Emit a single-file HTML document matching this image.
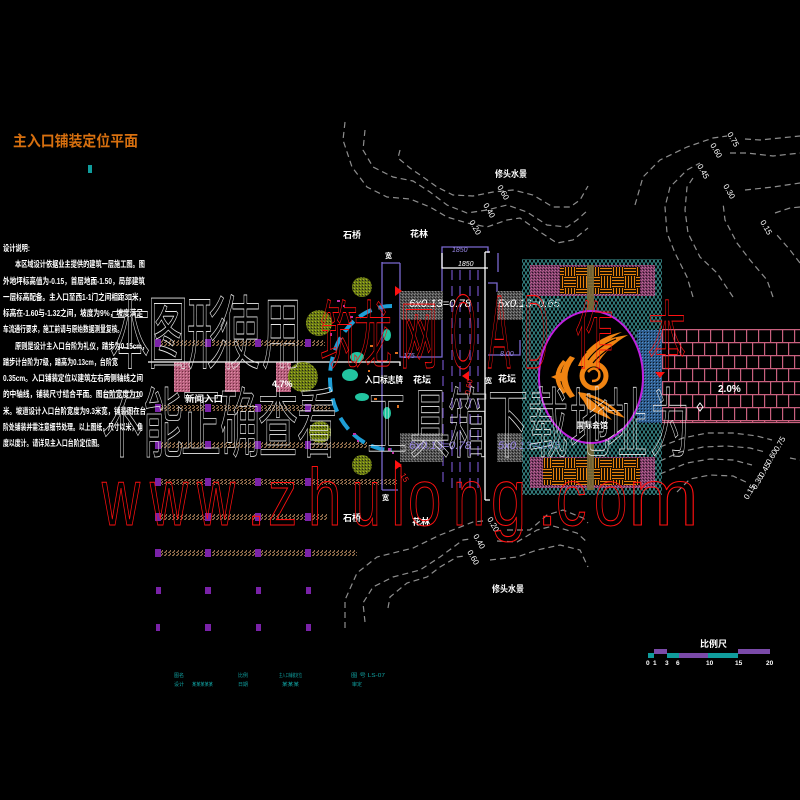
<!DOCTYPE html>
<html><head><meta charset="utf-8">
<style>
html,body{margin:0;padding:0;background:#000;width:800px;height:800px;overflow:hidden}
svg{display:block}
</style></head>
<body>
<svg width="800" height="800" viewBox="0 0 800 800" xmlns="http://www.w3.org/2000/svg" font-family="Liberation Sans, Noto Sans CJK SC, sans-serif">
<defs>
  <pattern id="mesh" width="8" height="6" patternUnits="userSpaceOnUse">
    <path d="M0,0 L4,6 L8,0 M0,6 L4,0 L8,6" stroke="#3c9494" stroke-width="0.9" fill="none"/>
  </pattern>
  <pattern id="gray" width="3" height="3" patternUnits="userSpaceOnUse">
    <rect width="3" height="3" fill="#4c4c4c"/><rect x="0" y="0" width="1" height="1" fill="#8a8a8a"/><rect x="2" y="1" width="1" height="1" fill="#1a1a1a"/><rect x="1" y="2" width="1" height="1" fill="#777"/>
  </pattern>
  <pattern id="brown" width="4" height="3" patternUnits="userSpaceOnUse">
    <rect width="4" height="3" fill="#000"/><rect x="0" y="0" width="2" height="1" fill="#8a6848"/><rect x="2" y="1" width="1" height="1" fill="#9a7656"/><rect x="1" y="2" width="2" height="1" fill="#7a5a3c"/>
  </pattern>
  <pattern id="pink" width="3" height="3" patternUnits="userSpaceOnUse">
    <rect width="3" height="3" fill="#7a3c66"/><rect x="0" y="0" width="1" height="1" fill="#c06a98"/><rect x="2" y="1" width="1" height="1" fill="#b05a88"/><rect x="1" y="2" width="1" height="1" fill="#2a1020"/>
  </pattern>
  <pattern id="pinkr" width="3" height="3" patternUnits="userSpaceOnUse">
    <rect width="3" height="3" fill="#b8607e"/><rect x="0" y="0" width="1" height="1" fill="#e090a8"/><rect x="2" y="2" width="1" height="1" fill="#703040"/>
  </pattern>
  <pattern id="olive" width="3" height="3" patternUnits="userSpaceOnUse">
    <rect width="3" height="3" fill="#6a7a12"/><rect x="0" y="0" width="1" height="1" fill="#a0b02a"/><rect x="2" y="1" width="1" height="1" fill="#222"/>
  </pattern>
  <pattern id="bluep" width="3" height="3" patternUnits="userSpaceOnUse">
    <rect width="3" height="3" fill="#2c5a8a"/><rect x="0" y="0" width="1" height="1" fill="#5a90c8"/><rect x="2" y="2" width="1" height="1" fill="#101820"/>
  </pattern>
  <pattern id="parq" width="24" height="24" patternUnits="userSpaceOnUse">
    <g stroke="#e8820c" stroke-width="1.2">
      <path d="M0,1.5H12M0,4.5H12M0,7.5H12M0,10.5H12"/>
      <path d="M13.5,0V12M16.5,0V12M19.5,0V12M22.5,0V12"/>
      <path d="M1.5,12V24M4.5,12V24M7.5,12V24M10.5,12V24"/>
      <path d="M12,13.5H24M12,16.5H24M12,19.5H24M12,22.5H24"/>
    </g>
  </pattern>
  <pattern id="brick" x="662" y="329" width="24" height="26" patternUnits="userSpaceOnUse">
    <path d="M0,0.6H24M0,13.6H24M0.6,0V13M12.6,0V13M6.6,13V26M18.6,13V26" stroke="#c8607e" stroke-width="1.2" fill="none"/>
  </pattern>
</defs>

<rect width="800" height="800" fill="#000"/>

<!-- Title -->
<text x="13" y="146" font-size="15" font-weight="bold" fill="#d8700f" textLength="125" lengthAdjust="spacingAndGlyphs">主入口铺装定位平面</text>
<rect x="88" y="165" width="4" height="8" fill="#109c9c"/>

<!-- Design notes -->
<g fill="#fff" font-size="8.5" font-weight="bold">
  <text x="3" y="251" textLength="27" lengthAdjust="spacingAndGlyphs">设计说明:</text>
  <text x="15" y="267" textLength="130" lengthAdjust="spacingAndGlyphs">本区域设计依据业主提供的建筑一层施工图。图</text>
  <text x="3" y="284" textLength="142" lengthAdjust="spacingAndGlyphs">外地坪标高值为-0.15，首层地面-1.50，局部建筑</text>
  <text x="3" y="300" textLength="142" lengthAdjust="spacingAndGlyphs">一层标高配备。主入口至西1-1门之间相距31米，</text>
  <text x="3" y="316" textLength="140" lengthAdjust="spacingAndGlyphs">标高在-1.60与-1.32之间，坡度为9%，坡度满足</text>
  <text x="3" y="332" textLength="120" lengthAdjust="spacingAndGlyphs">车流通行要求，施工前请与原始数据测量复核。</text>
  <text x="15" y="349" textLength="133" lengthAdjust="spacingAndGlyphs">原则是设计主入口台阶为礼仪，踏步为0.15cm，</text>
  <text x="3" y="365" textLength="115" lengthAdjust="spacingAndGlyphs">踏步计台阶为7级，踏高为0.13cm，台阶宽</text>
  <text x="3" y="381" textLength="140" lengthAdjust="spacingAndGlyphs">0.35cm。入口铺装定位以建筑左右两侧轴线之间</text>
  <text x="3" y="397" textLength="140" lengthAdjust="spacingAndGlyphs">的中轴线，铺装尺寸结合平面。图台阶宽度为10</text>
  <text x="3" y="414" textLength="143" lengthAdjust="spacingAndGlyphs">米。坡道设计入口台阶宽度为9.3米宽，铺装图在台</text>
  <text x="3" y="430" textLength="140" lengthAdjust="spacingAndGlyphs">阶处铺装并需注意细节处理。以上图纸，尺寸以米，角</text>
  <text x="3" y="446" textLength="100" lengthAdjust="spacingAndGlyphs">度以度计。请详见主入口台阶定位图。</text>
</g>

<!-- Contours -->
<g fill="none" stroke="#8e8e8e" stroke-width="1.2" stroke-dasharray="6 4">
  <polyline points="400,150 398,158 410,168 423,177 437,187 453,195 473,196 493,192 513,190 533,195 553,207 570,207 580,200 588,186"/>
  <polyline points="365,130 363,150 373,167 393,177 413,181 430,192 447,205 467,213 487,210 507,205 527,212 547,225 567,227 577,220 588,210"/>
  <polyline points="345,122 343,140 352,167 367,187 387,197 410,199 430,207 447,217 467,223 487,227 507,220 520,218 537,230 557,243 573,240 588,228"/>
  <polyline points="635,205 643,177 660,160 687,147 713,138 727,136"/>
  <polyline points="745,139 760,140 780,138 800,136"/>
  <polyline points="693,297 687,277 675,253 667,233 665,207 670,187 687,170 700,163"/>
  <polyline points="730,153 747,153 773,156 800,153"/>
  <polyline points="733,297 717,273 700,257 688,233 685,210 687,187 695,175"/>
  <polyline points="773,297 767,280 750,260 737,243 725,220 723,203"/>
  <polyline points="745,190 773,187 800,183"/>
  <polyline points="800,263 790,250 777,235"/>
  <polyline points="775,213 790,208 800,207"/>
  <polyline points="660,447 683,438 707,433 733,433 757,436 772,440"/>
  <polyline points="660,461 680,452 703,447 727,446 750,448 765,452"/>
  <polyline points="660,474 687,463 710,459 733,460 752,465"/>
  <polyline points="677,492 690,479 710,475 733,476 748,483"/>
  <polyline points="790,458 800,460"/>
  <polyline points="345,628 345,600 357,573 377,557 413,548 440,535 473,522 483,521"/>
  <polyline points="507,530 530,530 547,515 563,510 583,518 588,523"/>
  <polyline points="365,622 363,603 373,587 393,577 420,570 440,557 463,540 470,539"/>
  <polyline points="497,541 517,542 537,530 553,526 577,533 588,543"/>
  <polyline points="388,608 390,597 407,583 427,577 440,567 457,557 465,556"/>
  <polyline points="490,560 517,557 537,550 560,545 580,550 588,567"/>
</g>
<!-- contour labels -->
<g fill="#fff" font-size="8">
  <text transform="translate(497,187) rotate(60)">0.60</text>
  <text transform="translate(483,205) rotate(60)">0.40</text>
  <text transform="translate(469,222) rotate(60)">0.20</text>
  <text transform="translate(727,134) rotate(60)">0.75</text>
  <text transform="translate(710,145) rotate(60)">0.60</text>
  <text transform="translate(697,166) rotate(60)">0.45</text>
  <text transform="translate(723,186) rotate(60)">0.30</text>
  <text transform="translate(760,222) rotate(60)">0.15</text>
  <text transform="translate(778,452) rotate(-60)">0.75</text>
  <text transform="translate(770,465) rotate(-60)">0.60</text>
  <text transform="translate(763,478) rotate(-60)">0.45</text>
  <text transform="translate(756,490) rotate(-60)">0.30</text>
  <text transform="translate(748,500) rotate(-60)">0.15</text>
  <text transform="translate(487,519) rotate(60)">0.20</text>
  <text transform="translate(473,536) rotate(60)">0.40</text>
  <text transform="translate(467,552) rotate(60)">0.60</text>
</g>

<!-- Bands -->
<g>
  <rect x="157" y="340" width="168" height="6" fill="url(#brown)"/>
  <rect x="157" y="405" width="173" height="6" fill="url(#brown)"/>
  <rect x="157" y="442" width="210" height="6" fill="url(#brown)"/>
  <rect x="157" y="479" width="240" height="6" fill="url(#brown)"/>
  <rect x="157" y="514" width="170" height="6" fill="url(#brown)"/>
  <rect x="157" y="550" width="200" height="6" fill="url(#brown)"/>
  <g fill="#7a22a8">
    <rect x="155" y="339" width="6" height="8"/><rect x="205" y="339" width="6" height="8"/><rect x="255" y="339" width="6" height="8"/><rect x="305" y="339" width="6" height="8"/>
    <rect x="155" y="404" width="6" height="8"/><rect x="205" y="404" width="6" height="8"/><rect x="255" y="404" width="6" height="8"/><rect x="305" y="404" width="6" height="8"/>
    <rect x="155" y="441" width="6" height="8"/><rect x="205" y="441" width="6" height="8"/><rect x="255" y="441" width="6" height="8"/><rect x="305" y="441" width="6" height="8"/>
    <rect x="155" y="478" width="6" height="8"/><rect x="205" y="478" width="6" height="8"/><rect x="255" y="478" width="6" height="8"/><rect x="305" y="478" width="6" height="8"/>
    <rect x="155" y="513" width="6" height="8"/><rect x="205" y="513" width="6" height="8"/><rect x="255" y="513" width="6" height="8"/><rect x="305" y="513" width="6" height="8"/>
    <rect x="155" y="549" width="6" height="8"/><rect x="205" y="549" width="6" height="8"/><rect x="255" y="549" width="6" height="8"/><rect x="305" y="549" width="6" height="8"/>
    <rect x="156" y="587" width="5" height="7"/><rect x="205" y="587" width="6" height="7"/><rect x="256" y="587" width="5" height="7"/><rect x="306" y="587" width="5" height="7"/>
    <rect x="156" y="624" width="4" height="7"/><rect x="205" y="624" width="6" height="7"/><rect x="256" y="624" width="5" height="7"/><rect x="306" y="624" width="5" height="7"/>
  </g>
</g>

<!-- Pink rects -->
<rect x="174" y="362" width="16" height="30" fill="url(#pinkr)"/>
<rect x="225" y="362" width="15" height="30" fill="url(#pinkr)"/>
<rect x="276" y="362" width="15" height="30" fill="url(#pinkr)"/>
<path d="M148,362H400V366" stroke="#fff" stroke-width="1.3" fill="none"/>

<!-- Olive blobs -->
<g fill="url(#olive)">
  <circle cx="362" cy="287" r="10"/>
  <circle cx="319" cy="323" r="13"/>
  <circle cx="303" cy="377" r="15"/>
  <circle cx="320" cy="432" r="11"/>
  <circle cx="362" cy="465" r="10"/>
</g>

<!-- Cyan arc and teal blobs -->
<path d="M392,306 A62 72 0 0 0 392,450" fill="none" stroke="#1e9ed6" stroke-width="4" stroke-dasharray="14 7"/>
<g fill="#22c4a0">
  <ellipse cx="357" cy="357" rx="7" ry="5"/>
  <ellipse cx="350" cy="375" rx="8" ry="6"/>
  <ellipse cx="362" cy="397" rx="7" ry="4"/>
  <ellipse cx="387" cy="335" rx="4" ry="6"/>
  <ellipse cx="387" cy="413" rx="4" ry="6"/>
</g>
<g fill="#e07020">
  <rect x="370" y="345" width="3" height="2"/><rect x="395" y="352" width="3" height="2"/><rect x="374" y="398" width="3" height="2"/><rect x="397" y="405" width="2" height="3"/><rect x="368" y="370" width="2" height="2"/>
</g>
<g fill="#c030a8">
  <rect x="337" y="300" width="3" height="2"/><rect x="343" y="305" width="2" height="2"/><rect x="350" y="316" width="3" height="2"/><rect x="330" y="333" width="2" height="3"/><rect x="353" y="433" width="3" height="2"/><rect x="357" y="440" width="2" height="2"/><rect x="388" y="448" width="3" height="3"/><rect x="392" y="452" width="2" height="2"/>
</g>

<!-- Purple lines -->
<g stroke="#7a68d0" stroke-width="1.3" fill="none">
  <path d="M382,262V490M382,263H400M382,490H398M400,263V357H442V247H488V253M498,253V272M488,283H497V292M488,355H520V340"/>
</g>
<g stroke="#7050c0" stroke-width="1.2" stroke-dasharray="10 6">
  <path d="M452,270V488M460,270V488M470,270V488M478,270V488M443,360V488"/>
</g>
<path d="M442,253V268H488M485,252V500M485,252H490M485,500H490" stroke="#fff" stroke-width="1.3" fill="none"/>

<!-- Gray stipple rects -->
<rect x="400" y="291" width="43" height="29" fill="url(#gray)"/>
<rect x="497" y="291" width="26" height="29" fill="url(#gray)"/>
<rect x="400" y="433" width="43" height="29" fill="url(#gray)"/>
<rect x="497" y="433" width="26" height="29" fill="url(#gray)"/>
<g font-size="11" font-style="italic">
  <text x="409" y="307" fill="#fff" textLength="62" lengthAdjust="spacingAndGlyphs">6x0.13=0.78</text>
  <text x="498" y="307" fill="#fff" textLength="62" lengthAdjust="spacingAndGlyphs">5x0.13=0.65</text>
  <text x="409" y="449" fill="#9a88e8" textLength="62" lengthAdjust="spacingAndGlyphs">6x0.13=0.78</text>
  <text x="498" y="449" fill="#9a88e8" textLength="62" lengthAdjust="spacingAndGlyphs">5x0.13=0.65</text>
</g>

<!-- Plaza -->
<rect x="522" y="259" width="140" height="236" fill="url(#mesh)"/>
<rect x="530" y="265" width="125" height="31" fill="url(#pink)"/>
<rect x="560" y="267" width="80" height="27" fill="#000"/>
<rect x="560" y="267" width="80" height="27" fill="url(#parq)"/>
<rect x="530" y="457" width="125" height="31" fill="url(#pink)"/>
<rect x="543" y="458" width="97" height="27" fill="#000"/>
<rect x="543" y="458" width="97" height="27" fill="url(#parq)"/>
<rect x="587" y="265" width="7" height="48" fill="#7a6a3a" opacity="0.9"/>
<rect x="587" y="441" width="7" height="49" fill="#7a6a3a" opacity="0.9"/>
<rect x="637" y="330" width="25" height="93" fill="url(#bluep)"/>
<ellipse cx="591" cy="377" rx="52" ry="66" fill="#000" stroke="#c020e0" stroke-width="2"/>

<!-- Logo -->
<g fill="#f08412">
  <path d="M578,366 Q588,340 628,335 Q608,346 596,366 Z"/>
  <path d="M586,352 Q600,336 622,332 Q606,340 596,352 Z"/>
  <path d="M570,356 Q552,377 570,398 L575,396 Q560,377 575,358 Z"/>
  <path d="M563,360 Q548,377 563,394 L566,392 Q554,377 566,362 Z"/>
  <polygon points="551,377 563,372 563,382"/>
  <path d="M578,392 Q602,394 625,418 Q606,412 592,407 Q581,401 578,392 Z"/>
  <path d="M583,400 Q600,406 612,420 Q598,414 588,409 Z"/>
</g>
<circle cx="594" cy="376" r="12" fill="none" stroke="#f08412" stroke-width="5"/>
<path d="M588,372 Q594,365 599,372 Q601,381 592,381" fill="none" stroke="#f08412" stroke-width="2.5"/>
<g stroke="#000" stroke-width="1.2" fill="none">
  <path d="M588,360 Q598,346 616,339M593,363 Q602,352 620,342M590,398 Q604,402 616,414M586,396 Q598,404 608,414"/>
</g>

<!-- Brick paving -->
<rect x="662" y="329" width="138" height="94" fill="url(#brick)"/>
<path d="M662,422.5H800" stroke="#c8607e" stroke-width="1.2"/>

<!-- Labels -->
<g fill="#fff" font-size="9" font-weight="bold">
  <text x="343" y="238">石桥</text>
  <text x="343" y="521">石桥</text>
  <text x="410" y="237">花林</text>
  <text x="412" y="525">花林</text>
  <text x="495" y="177" textLength="32" lengthAdjust="spacingAndGlyphs">修头水景</text>
  <text x="492" y="592" textLength="32" lengthAdjust="spacingAndGlyphs">修头水景</text>
  <text x="413" y="383">花坛</text>
  <text x="498" y="382">花坛</text>
  <text x="365" y="383" textLength="38" lengthAdjust="spacingAndGlyphs">入口标志牌</text>
  <text x="185" y="402" textLength="38" lengthAdjust="spacingAndGlyphs">新闻入口</text>
  <text x="272" y="387" font-size="9">4.7%</text>
  <text x="718" y="392" font-size="10">2.0%</text>
  <text x="576" y="428" font-size="8">国际会馆</text>
  <text x="385" y="258" font-size="7">宽</text>
  <text x="485" y="383" font-size="7">宽</text>
  <text x="382" y="500" font-size="7">宽</text>
</g>
<g fill="#9a88e8" font-size="7" font-style="italic">
  <text x="452" y="252">1850</text>
  <text x="458" y="266" fill="#fff">1850</text>
  <text x="403" y="358">175</text>
  <text x="500" y="356">8.00</text>
</g>
<path d="M700,403 L703,407 L700,411 L697,407 Z" fill="none" stroke="#fff" stroke-width="1"/>

<!-- Red markers -->
<g fill="#ff1010">
  <polygon points="395,286 402,291 395,296"/>
  <polygon points="469,371 462,376 469,381"/>
  <polygon points="395,460 402,465 395,470"/>
  <polygon points="655,372 665,372 660,378"/>
</g>
<g fill="#ff2020" font-size="8">
  <text transform="translate(470,395) rotate(-80)">0.60</text>
  <text transform="translate(400,475) rotate(60)">15</text>
</g>

<!-- White watermark characters -->
<g fill="none" stroke="#e8e8e8" stroke-width="0.45" font-size="40" font-family="Noto Sans CJK SC, sans-serif">
  <g transform="translate(0,362) scale(1,2)">
    <text x="110" y="0">本</text><text x="148" y="0">图</text><text x="187" y="0">形</text><text x="220" y="0">使</text><text x="262" y="0">用</text>
  </g>
  <g transform="translate(0,451) scale(1,1.9)">
    <text x="102" y="0">不</text><text x="143" y="0">能</text><text x="181" y="0">正</text><text x="220" y="0">确</text><text x="258" y="0">查</text><text x="297" y="0">看</text>
    <text x="367" y="0">工</text><text x="410" y="0">具</text><text x="448" y="0">箱</text><text x="488" y="0">下</text><text x="528" y="0">载</text><text x="570" y="0">地</text><text x="607" y="0">址</text><text x="650" y="0">为</text>
  </g>
</g>

<!-- Red watermark characters row 1 -->
<g fill="none" stroke="#ff1010" stroke-width="0.5">
  <g transform="translate(0,362) scale(1,1.95)" font-size="38" font-family="Noto Sans CJK SC, sans-serif">
    <text x="320" y="0">筑</text><text x="354" y="0">龙</text><text x="400" y="0">网</text><text x="575" y="0">作</text><text x="648" y="0">本</text>
  </g>
  <g font-size="42" font-family="Liberation Sans, sans-serif">
    <text transform="translate(450,368) scale(0.8,2.5)">O</text>
    <text transform="translate(488,368) scale(0.8,2.5)">A</text>
    <text transform="translate(524,368) scale(0.8,2.5)">D</text>
  </g>
</g>

<!-- www.zhulong.com -->
<g fill="none" stroke="#ff1010" stroke-width="1.1" font-size="81" font-family="Liberation Sans, sans-serif">
  <text transform="translate(102,525) scale(0.65,1)">w</text>
  <text transform="translate(150,525) scale(0.65,1)">w</text>
  <text transform="translate(197,525) scale(0.65,1)">w</text>
  <text transform="translate(246,525) scale(0.9,1)">.</text>
  <text transform="translate(268,525) scale(0.72,1)">z</text>
  <text transform="translate(308,525) scale(0.74,1)">h</text>
  <text transform="translate(352,525) scale(0.63,1)">u</text>
  <text transform="translate(391,525) scale(0.8,1)">l</text>
  <text transform="translate(408,525) scale(0.74,1)">o</text>
  <text transform="translate(453,525) scale(0.71,1)">n</text>
  <text transform="translate(491,525) scale(0.78,1)">g</text>
  <text transform="translate(537,525) scale(0.9,1)">.</text>
  <text transform="translate(556,525) scale(0.75,1)">c</text>
  <text transform="translate(594,525) scale(0.74,1)">o</text>
  <text transform="translate(628,525) scale(1.05,1)">m</text>
</g>

<!-- Bottom teal tiny text -->
<g fill="#10a0a0" font-size="5">
  <text x="174" y="677">图名</text>
  <text x="238" y="677">比例</text>
  <text x="279" y="677" textLength="23" lengthAdjust="spacingAndGlyphs">主入口铺装定位</text>
  <text x="351" y="677" textLength="34" lengthAdjust="spacingAndGlyphs">图 号 LS-07</text>
  <text x="174" y="686">设计</text>
  <text x="192" y="686" textLength="21" lengthAdjust="spacingAndGlyphs">某某某某某</text>
  <text x="238" y="686">日期</text>
  <text x="282" y="686" textLength="17" lengthAdjust="spacingAndGlyphs">某某某</text>
  <text x="352" y="686">审定</text>
</g>

<!-- Scale bar -->
<text x="700" y="647" fill="#fff" font-size="9" font-weight="bold">比例尺</text>
<rect x="648" y="653" width="6" height="5" fill="#109c9c"/>
<rect x="654" y="649" width="13" height="5" fill="#7a4aa8"/>
<rect x="667" y="653" width="12" height="5" fill="#109c9c"/>
<rect x="679" y="653" width="29" height="5" fill="#7a4aa8"/>
<rect x="708" y="653" width="30" height="5" fill="#109c9c"/>
<rect x="738" y="649" width="32" height="5" fill="#7a4aa8"/>
<g fill="#fff" font-size="6.5" font-weight="bold">
  <text x="646" y="665">0</text><text x="653" y="665">1</text><text x="665" y="665">3</text><text x="676" y="665">6</text><text x="706" y="665">10</text><text x="735" y="665">15</text><text x="766" y="665">20</text>
</g>
</svg>
</body></html>
